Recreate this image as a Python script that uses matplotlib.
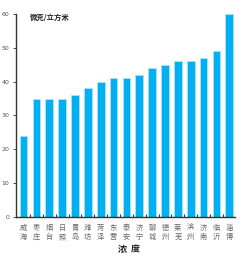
import numpy as np
import matplotlib
matplotlib.use('Agg')
from matplotlib import pyplot as plt

plt.rcParams['font.family'] = ['Noto Sans CJK SC', 'DejaVu Sans']

cities = ['威海', '枣庄', '烟台', '日照', '青岛', '潍坊', '菏泽', '东营', '泰安',
          '济宁', '聊城', '德州', '莱芜', '滨州', '济南', '临沂', '淄博']
values = [24, 35, 35, 35, 36, 38, 40, 41, 41, 42, 44, 45, 46, 46, 47, 49, 60]
yticks = [0, 10, 20, 30, 40, 50, 60]

fig = plt.figure(figsize=(2.49, 2.65), dpi=100)
ax = fig.add_axes([0.066, 0.182, 0.878, 0.765])

x = np.arange(len(cities))
ax.bar(x, values, width=0.6, color='#00B0F0', edgecolor='#A8E4FA', linewidth=0.6)

ax.set_xlim(-0.55, len(cities) - 0.55)
ax.set_ylim(0, 60)
ax.set_yticks(yticks)
ax.set_yticklabels([str(v) for v in yticks], fontsize=4.5, color='#555555', family='DejaVu Sans')
ax.tick_params(axis='y', length=2.5, width=0.6, pad=2.5, color='#333333')

ax.set_xticks(x)
ax.set_xticklabels(['\n'.join(c) for c in cities], fontsize=5.2, color='#666666', linespacing=1.25)
ax.tick_params(axis='x', which='major', length=0, pad=5)
ax.set_xticks(x[:-1] + 0.5, minor=True)
ax.tick_params(axis='x', which='minor', length=2, width=0.8, color='#333333', direction='in')

for s in ['top', 'right']:
    ax.spines[s].set_visible(False)
for s in ['left', 'bottom']:
    ax.spines[s].set_linewidth(1.0)
    ax.spines[s].set_color('#333333')

fig.text(0.12, 0.935, '微克/立方米', fontsize=5.3, fontweight='bold', color='#222222', va='center')
fig.text(0.52, 0.06, '浓  度', fontsize=6.5, fontweight='bold', color='#222222', ha='center', va='center')

fig.savefig('out.png', dpi=100)
